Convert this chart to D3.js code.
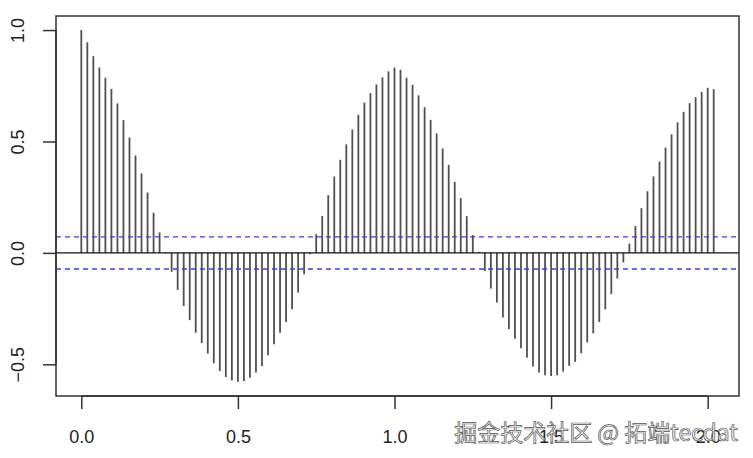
<!DOCTYPE html>
<html>
<head>
<meta charset="UTF-8">
<title>ACF plot</title>
<script src="https://d3js.org/d3.v7.min.js"></script>
<style>
body { margin: 0; background: #fff; }
</style>
</head>
<body>
<figure class=chart style="margin:0"></figure>

<script type="text/javascript">

/* Data: autocorrelation at each lag (lag index / frequency gives lag in years) */
var freq = 52
var acf = [1.000, 0.945, 0.883, 0.832, 0.786, 0.736, 0.671, 0.596, 0.518, 0.437,
	0.357, 0.271, 0.180, 0.092, 0.004, -0.085, -0.166, -0.238, -0.302, -0.358,
	-0.405, -0.452, -0.495, -0.530, -0.557, -0.572, -0.579, -0.575, -0.560, -0.537,
	-0.507, -0.459, -0.410, -0.358, -0.310, -0.253, -0.178, -0.096, -0.006, 0.084,
	0.166, 0.259, 0.343, 0.418, 0.487, 0.554, 0.620, 0.674, 0.717, 0.756,
	0.788, 0.815, 0.832, 0.822, 0.786, 0.754, 0.707, 0.654, 0.597, 0.536,
	0.469, 0.395, 0.319, 0.246, 0.165, 0.080, 0.005, -0.081, -0.160, -0.223,
	-0.290, -0.343, -0.385, -0.428, -0.471, -0.510, -0.537, -0.549, -0.552, -0.549,
	-0.533, -0.507, -0.489, -0.450, -0.402, -0.361, -0.310, -0.253, -0.185, -0.115,
	-0.043, 0.042, 0.121, 0.201, 0.277, 0.343, 0.410, 0.473, 0.532, 0.586,
	0.633, 0.672, 0.699, 0.723, 0.741, 0.735]
var conf = 0.072		// +/- significance bound
var x_ticks = [0.0, 0.5, 1.0, 1.5, 2.0]
var y_ticks = [-0.5, 0.0, 0.5, 1.0]
var watermark = '掘金技术社区 @ 拓端tecdat'

/* Canvas */
var W = 753, H = 458
var box = {left: 56, right: 739, top: 16, bottom: 396}
var font = 'Liberation Sans, Arial, sans-serif'

var lags = acf.map(function(d, i) { return i / freq })

/* R style range: data extent widened by 4% on each side */
function r_domain(ext) {
	var pad = (ext[1] - ext[0]) * 0.04
	return [ext[0] - pad, ext[1] + pad]
}

var x = d3.scaleLinear()
	.domain(r_domain(d3.extent(lags)))
	.range([box.left, box.right])
var y = d3.scaleLinear()
	.domain(r_domain(d3.extent(acf)))
	.range([box.bottom, box.top])

var svg = d3.select('figure')
	.append('svg')
	.attr('width', W)
	.attr('height', H)

/* Spikes */
svg.append('g').selectAll('line')
	.data(acf)
	.enter()
	.append('line')
	.attr('x1', function(d, i) { return x(lags[i]) })
	.attr('x2', function(d, i) { return x(lags[i]) })
	.attr('y1', y(0))
	.attr('y2', function(d) { return y(d) })
	.style('stroke', '#505050')
	.style('stroke-width', 1.8)

/* Zero line */
svg.append('line')
	.attr('x1', box.left).attr('x2', box.right)
	.attr('y1', y(0)).attr('y2', y(0))
	.style('stroke', '#111')
	.style('stroke-width', 1.4)

/* Confidence bounds */
svg.append('g').selectAll('line')
	.data([conf, -conf])
	.enter()
	.append('line')
	.attr('x1', box.left).attr('x2', box.right)
	.attr('y1', function(d) { return y(d) })
	.attr('y2', function(d) { return y(d) })
	.style('stroke', '#3b3bea')
	.style('stroke-width', 1.4)
	.style('stroke-dasharray', '5,4')

/* Box */
svg.append('rect')
	.attr('x', box.left).attr('y', box.top)
	.attr('width', box.right - box.left)
	.attr('height', box.bottom - box.top)
	.style('fill', 'none')
	.style('stroke', '#333')
	.style('stroke-width', 1.5)

/* Axes */
var x_axis = d3.axisBottom(x)
	.tickValues(x_ticks)
	.tickFormat(d3.format('.1f'))
	.tickSize(13)
	.tickPadding(21)
var gx = svg.append('g')
	.attr('transform', 'translate(0,' + box.bottom + ')')
	.call(x_axis)
gx.select('.domain')
	.attr('d', 'M' + x(x_ticks[0]) + ',0H' + x(x_ticks[x_ticks.length - 1]))

var y_axis = d3.axisLeft(y)
	.tickValues(y_ticks)
	.tickFormat(d3.format('.1f'))
	.tickSize(13)
	.tickPadding(8)
var gy = svg.append('g')
	.attr('transform', 'translate(' + box.left + ',0)')
	.call(y_axis)
gy.select('.domain')
	.attr('d', 'M0,' + y(y_ticks[0]) + 'V' + y(y_ticks[y_ticks.length - 1]))

svg.selectAll('.domain, .tick line')
	.style('stroke', '#333')
	.style('stroke-width', 1.5)
svg.selectAll('.tick text')
	.style('font-family', font)
	.style('font-size', '18px')
	.style('fill', '#222')

/* Rotated y labels as in R (las = 0) */
gy.selectAll('.tick text')
	.attr('x', null).attr('dy', null)
	.attr('transform', 'translate(-37,0) rotate(-90)')
	.style('text-anchor', 'middle')
	.attr('dominant-baseline', 'middle')

/* Watermark */
svg.append('text')
	.attr('x', 738)
	.attr('y', 441)
	.text(watermark)
	.style('font-family', 'Noto Sans CJK SC, sans-serif')
	.style('font-size', '23px')
	.style('text-anchor', 'end')
	.style('fill', '#f4f4f4')
	.style('fill-opacity', 0.85)
	.style('stroke', '#555')
	.style('stroke-width', 0.7)

</script>
</body>
</html>
